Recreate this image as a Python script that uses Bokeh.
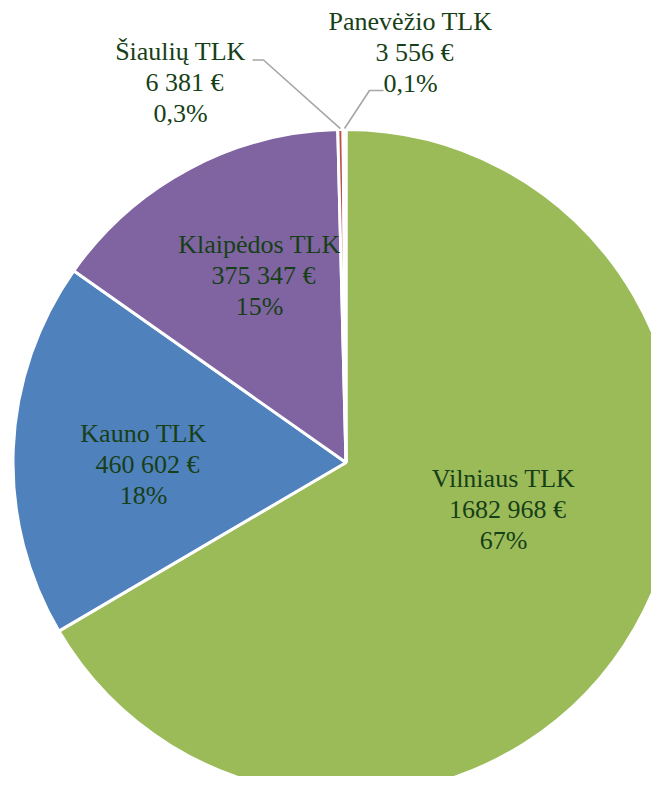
import math
from bokeh.plotting import figure
from bokeh.models import Range1d, ColumnDataSource
from bokeh.core.properties import value
from bokeh.embed import file_html
from bokeh.resources import INLINE

# ---------------- data ----------------
names = ["Vilniaus TLK", "Kauno TLK", "Klaipėdos TLK", "Šiaulių TLK", "Panevėžio TLK"]
amounts = [1682968, 460602, 375347, 6381, 3556]
amount_labels = ["1682 968 €", "460 602 €", "375 347 €", "6 381 €", "3 556 €"]
colors = ["#9BBB59", "#4F81BD", "#8064A2", "#C0504D", "#4BACC6"]

# ---------------- layout (pixels of the picture) ----------------
W, H = 651, 776
TOP = 792
CX, CY, R = 345.5, 462.0, 333.0
label_anchor = [(503, 478), (143, 433), (259, 244), (180, 50.5), (410, 21)]
LINE_GAP = 31
VALUE_DX = 4
leader_start = {3: [(252, 59.5), (263, 59.5)], 4: [(383, 90), (369, 90)]}
TEXT_COLOR = "#173f17"
FONT = "Liberation Serif"


def ydata(y_pix):
    return TOP - y_pix


total = float(sum(amounts))
fracs = [a / total for a in amounts]
cum = [0.0]
for f in fracs:
    cum.append(cum[-1] + f)

start_angles = [math.pi / 2 - 2 * math.pi * cum[i + 1] for i in range(len(amounts))]
end_angles = [math.pi / 2 - 2 * math.pi * cum[i] for i in range(len(amounts))]


def pct_text(f):
    p = f * 100
    if p < 1:
        return f"{p:.1f}".replace(".", ",") + "%"
    return f"{round(p)}%"


p = figure(width=W, height=H, output_backend="svg", toolbar_location=None,
           x_range=Range1d(0, W),
           y_range=Range1d(TOP - H, TOP),
           min_border=0, outline_line_color=None, background_fill_color="white")
p.axis.visible = False
p.grid.visible = False

src = ColumnDataSource(dict(
    x=[CX] * len(amounts), y=[ydata(CY)] * len(amounts),
    start=start_angles, end=end_angles, color=colors))
p.wedge(x="x", y="y", radius=R, start_angle="start", end_angle="end",
        fill_color="color", line_color="white", line_width=3, source=src)

# leader lines for the small slices
for i, pts in leader_start.items():
    mid = 2 * math.pi * (cum[i] + fracs[i] / 2)
    ex = CX + (R + 1) * math.sin(mid)
    ey = CY - (R + 1) * math.cos(mid)
    xs = [pt[0] for pt in pts] + [ex]
    ys = [ydata(pt[1]) for pt in pts] + [ydata(ey)]
    p.line(xs, ys, line_color="#a6a6a6", line_width=1.6)

tx, ty, tt = [], [], []
for i, name in enumerate(names):
    ax, ay = label_anchor[i]
    lines = [name, amount_labels[i], pct_text(fracs[i])]
    dxs = [0, VALUE_DX, 0]
    for k, line in enumerate(lines):
        tx.append(ax + dxs[k])
        ty.append(ydata(ay + k * LINE_GAP))
        tt.append(line)

p.text(x=tx, y=ty, text=tt, text_align="center", text_baseline="alphabetic",
       text_font=value(FONT), text_font_size="26px", text_color=TEXT_COLOR)

open("out.html", "w").write(file_html(p, INLINE))
